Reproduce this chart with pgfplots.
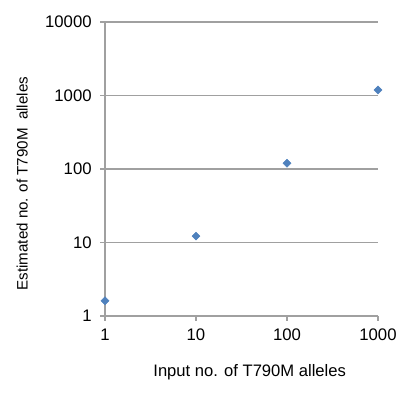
\documentclass[border=0pt]{standalone}
\usepackage{pgfplots}
\pgfplotsset{compat=1.18}
\usepackage{fontspec}
\setmainfont{Liberation Sans}
\definecolor{xlblue}{HTML}{4F81BD}
\definecolor{xlgray}{HTML}{A0A0A0}
\begin{document}
\begin{tikzpicture}
\begin{axis}[
    anchor=south west,
    at={(0,0)},
    scale only axis,
    width=204.75bp,
    height=220.5bp,
    xmode=log, ymode=log,
    xmin=1, xmax=1000,
    ymin=1, ymax=10000,
    log basis x=10, log basis y=10,
    xtick={1,10,100,1000},
    xticklabels={1,10,100,1000},
    ytick={1,10,100,1000,10000},
    yticklabels={1,10,100,1000,10000},
    minor tick num=0,
    minor xtick={}, minor ytick={},
    axis x line*=bottom,
    axis y line*=left,
    axis line style={xlgray, line width=0.9bp, -},
    tick style={xlgray, line width=0.9bp},
    tick align=outside,
    major tick length=3.5bp,
    ymajorgrids,
    grid style={xlgray, line width=0.9bp},
    tick label style={font=\fontsize{12.6}{14}\selectfont, text=black},
    xticklabel style={yshift=-2.5bp},
    yticklabel style={xshift=-3bp},
    xlabel={Input no. of T790M alleles},
    ylabel={Estimated no. of T790M\ \ alleles},
    xlabel style={font=\fontsize{12.5}{14}\selectfont, at={(rel axis cs:0.53,0)}, anchor=center, yshift=-42.5bp},
    ylabel style={font=\fontsize{11.4}{14}\selectfont, at={(rel axis cs:0,0.45)}, anchor=center, yshift=62bp},
    clip=false,
]
\addplot[only marks, mark=square*, mark size=2.1bp,
    mark options={rotate=45, fill=xlblue, draw=xlblue}] coordinates {
    (1,1.61)
    (10,12.2)
    (100,120)
    (1000,1190)
};
\end{axis}
\pgfresetboundingbox
\path (-78.75bp,-63bp) rectangle (221.25bp,237bp);
\end{tikzpicture}
\end{document}
